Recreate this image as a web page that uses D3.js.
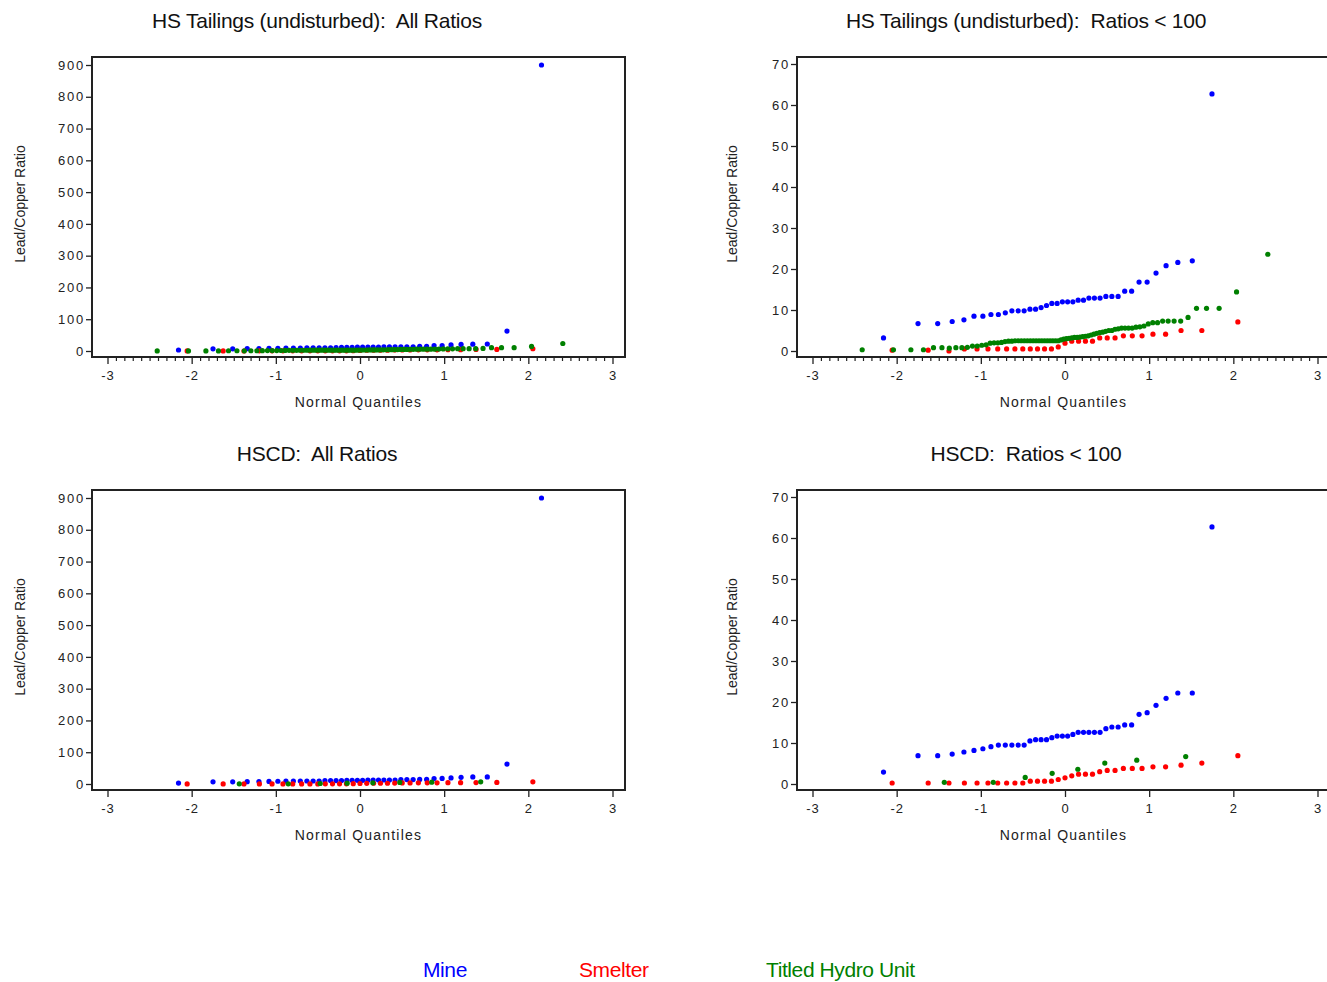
<!DOCTYPE html>
<html><head><meta charset="utf-8">
<script src="https://cdn.jsdelivr.net/npm/d3@7"></script>
<style>
body{margin:0;background:#fff;}
text{font-family:"Liberation Sans",Arial,sans-serif;white-space:pre;}
</style>
</head><body>
<svg id="chart" width="1327" height="982"></svg>
<script>
// ---------------- data ----------------
const seriesNames = ["Mine", "Smelter", "Titled Hydro Unit"];
const seriesColors = ["#0000ff", "#ff0000", "#008000"];
const xTickValues = [-3, -2, -1, 0, 1, 2, 3];
const xTickLabels = ["-3", "-2", "-1", "0", "1", "2", "3"];
const yTicksAll = [0, 100, 200, 300, 400, 500, 600, 700, 800, 900];
const yTicksLow = [0, 10, 20, 30, 40, 50, 60, 70];
const panelTitles = [
  "HS Tailings (undisturbed):  All Ratios",
  "HS Tailings (undisturbed):  Ratios < 100",
  "HSCD:  All Ratios",
  "HSCD:  Ratios < 100"
];
const yAxisTitle = "Lead/Copper Ratio";
const xAxisTitle = "Normal Quantiles";

// HS Tailings (undisturbed) lead/copper ratios (sorted)
const hsMine = [3.2, 6.7, 6.7, 7.2, 7.6, 8.5, 8.5, 8.9, 8.9, 9.3,
  9.8, 9.8, 9.8, 10.2, 10.2, 10.6, 11.1, 11.6, 11.6, 12.0,
  12.0, 12.0, 12.4, 12.4, 12.9, 12.9, 12.9, 13.3, 13.3, 13.3,
  14.6, 14.6, 16.8, 16.8, 19.0, 20.8, 21.6, 22.0, 62.7, 900];
const hsSmelter = [0.2, 0.2, 0.0, 0.5, 0.5, 0.5, 0.5, 0.5, 0.5, 0.5,
  0.5, 0.5, 0.5, 0.5, 1.0, 1.9, 2.4, 2.4, 2.4, 2.4,
  3.2, 3.2, 3.2, 3.7, 3.7, 3.7, 4.1, 4.1, 5.0, 5.0, 7.1];
const hsHydro = [0.3, 0.3, 0.3, 0.3, 0.8, 0.8, 0.7, 0.8, 0.8, 0.9,
  1.2, 1.2, 1.4, 1.5, 1.9, 2.0, 2.0, 2.1, 2.3, 2.4,
  2.4, 2.5, 2.5, 2.5, 2.5, 2.5, 2.5, 2.5, 2.5, 2.5,
  2.5, 2.5, 2.5, 2.5, 2.5, 2.5, 2.5, 2.7, 2.9, 3.0,
  3.1, 3.2, 3.3, 3.3, 3.4, 3.5, 3.6, 3.7, 3.9, 4.1,
  4.3, 4.5, 4.6, 4.8, 5.0, 5.0, 5.3, 5.4, 5.6, 5.6,
  5.6, 5.6, 5.8, 5.9, 6.1, 6.6, 6.9, 6.9, 7.3, 7.3,
  7.3, 7.3, 8.2, 10.4, 10.4, 10.4, 14.4, 23.6];

// HSCD lead/copper ratios (sorted)
const hscdMine = [2.9, 6.9, 6.9, 7.3, 7.8, 8.2, 8.6, 9.1, 9.5, 9.5,
  9.5, 9.5, 9.5, 10.5, 10.8, 10.8, 10.8, 11.3, 11.7, 11.7,
  11.7, 12.1, 12.6, 12.6, 12.6, 12.6, 12.6, 13.5, 13.9, 13.9,
  14.4, 14.4, 17.0, 17.4, 19.2, 20.9, 22.2, 22.2, 62.7, 900];
const hscdSmelter = [0.25, 0.25, 0.25, 0.25, 0.25, 0.25, 0.25, 0.25, 0.25, 0.25,
  0.7, 0.7, 0.7, 0.7, 1.1, 1.5, 2.0, 2.4, 2.4, 2.4,
  3.0, 3.3, 3.3, 3.8, 3.8, 3.8, 4.2, 4.2, 4.6, 5.1, 6.9];
const hscdHydro = [0.4, 0.4, 1.6, 2.6, 3.6, 5.1, 5.8, 6.7];

// ---------------- helpers ----------------
// inverse standard normal CDF (Acklam)
function invNorm(p) {
  const a = [-3.969683028665376e+01, 2.209460984245205e+02, -2.759285104469687e+02, 1.383577518672690e+02, -3.066479806614716e+01, 2.506628277459239e+00];
  const b = [-5.447609879822406e+01, 1.615858368580409e+02, -1.556989798598866e+02, 6.680131188771972e+01, -1.328068155288572e+01];
  const c = [-7.784894002430293e-03, -3.223964580411365e-01, -2.400758277161838e+00, -2.549671180376374e+00, 4.374664141464968e+00, 2.938163982698783e+00];
  const d = [7.784695709041462e-03, 3.224671290700398e-01, 2.445134137142996e+00, 3.754408661907416e+00];
  const pl = 0.02425, ph = 1 - pl;
  let q, r;
  if (p < pl) {
    q = Math.sqrt(-2 * Math.log(p));
    return (((((c[0]*q+c[1])*q+c[2])*q+c[3])*q+c[4])*q+c[5]) / ((((d[0]*q+d[1])*q+d[2])*q+d[3])*q+1);
  } else if (p <= ph) {
    q = p - 0.5; r = q*q;
    return (((((a[0]*r+a[1])*r+a[2])*r+a[3])*r+a[4])*r+a[5])*q / (((((b[0]*r+b[1])*r+b[2])*r+b[3])*r+b[4])*r+1);
  } else {
    q = Math.sqrt(-2 * Math.log(1 - p));
    return -(((((c[0]*q+c[1])*q+c[2])*q+c[3])*q+c[4])*q+c[5]) / ((((d[0]*q+d[1])*q+d[2])*q+d[3])*q+1);
  }
}
// normal scores (Blom plotting positions) for a sorted sample
function qq(values) {
  const n = values.length;
  return values.map((v, i) => ({ q: invNorm((i + 1 - 0.375) / (n + 0.25)), v }));
}

const svg = d3.select("#chart");
const FONT = '"Liberation Sans", Arial, sans-serif';

const panels = [
  { title: panelTitles[0], fx: 92, fy: 57, titleX: 317, yMax: 900, yTop: 65, ticks: yTicksAll, limit: Infinity,
    data: [hsMine, hsSmelter, hsHydro], minor: true, ylabX: 21 },
  { title: panelTitles[1], fx: 797, fy: 57, titleX: 1026, yMax: 70, yTop: 64, ticks: yTicksLow, limit: 100,
    data: [hsMine, hsSmelter, hsHydro], minor: true, ylabX: 733 },
  { title: panelTitles[2], fx: 92, fy: 490, titleX: 317, yMax: 900, yTop: 65, ticks: yTicksAll, limit: Infinity,
    data: [hscdMine, hscdSmelter, hscdHydro], minor: false, ylabX: 21 },
  { title: panelTitles[3], fx: 797, fy: 490, titleX: 1026, yMax: 70, yTop: 64, ticks: yTicksLow, limit: 100,
    data: [hscdMine, hscdSmelter, hscdHydro], minor: false, ylabX: 733 }
];

panels.forEach(p => {
  const W = 533, H = 300;
  const dy = p.fy - 57;
  const x = d3.scaleLinear().domain([-3, 3]).range([p.fx + 15.5, p.fx + 520.5]);
  const y = d3.scaleLinear().domain([0, p.yMax]).range([351 + dy, p.yTop + dy]);
  const g = svg.append("g");

  // title
  g.append("text").attr("x", p.titleX).attr("y", p.fy - 29)
    .attr("text-anchor", "middle").attr("font-size", 21).attr("letter-spacing", -0.25)
    .attr("fill", "#111").text(p.title);

  // points
  p.data.forEach((vals, si) => {
    const pts = qq(vals).filter(d => d.v < p.limit);
    g.append("g").selectAll("circle").data(pts).join("circle")
      .attr("cx", d => x(d.q)).attr("cy", d => y(d.v)).attr("r", 2.6)
      .attr("fill", seriesColors[si]);
  });

  // frame
  g.append("rect").attr("x", p.fx).attr("y", p.fy).attr("width", W).attr("height", H)
    .attr("fill", "none").attr("stroke", "#222").attr("stroke-width", 2);

  // y axis
  const yAxis = d3.axisLeft(y).tickValues(p.ticks).tickSize(5).tickPadding(3);
  const ya = g.append("g").attr("transform", `translate(${p.fx - 1},0)`).call(yAxis);
  ya.select(".domain").remove();
  ya.selectAll("line").attr("stroke", "#222").attr("stroke-width", 1.3);
  ya.selectAll("text").attr("font-family", FONT).attr("font-size", 13)
    .attr("letter-spacing", 1.8).attr("fill", "#222").attr("dx", 2);

  // x axis
  const xb = p.fy + H;
  if (p.minor) {
    const minorTicks = d3.range(-30, 31).map(k => k / 10).filter(t => Math.abs(t - Math.round(t)) > 1e-6);
    const xm = d3.axisBottom(x).tickValues(minorTicks).tickSize(3).tickFormat("");
    const xma = g.append("g").attr("transform", `translate(0,${xb + 1})`).call(xm);
    xma.select(".domain").remove();
    xma.selectAll("line").attr("stroke", "#222").attr("stroke-width", 1.2);
  }
  const xAxis = d3.axisBottom(x).tickValues(xTickValues).tickSize(6).tickPadding(7)
    .tickFormat((d, i) => xTickLabels[i]);
  const xa = g.append("g").attr("transform", `translate(0,${xb + 1})`).call(xAxis);
  xa.select(".domain").remove();
  xa.selectAll("line").attr("stroke", "#222").attr("stroke-width", 1.3);
  xa.selectAll("text").attr("font-family", FONT).attr("font-size", 13)
    .attr("letter-spacing", 1).attr("fill", "#222");

  // axis titles
  g.append("text").attr("x", p.fx + W / 2).attr("y", xb + 50)
    .attr("text-anchor", "middle").attr("font-size", 14).attr("letter-spacing", 1.2)
    .attr("fill", "#222").text(xAxisTitle);
  g.append("text").attr("transform", `translate(${p.ylabX},${204 + dy}) rotate(-90)`)
    .attr("text-anchor", "middle").attr("dominant-baseline", "middle")
    .attr("font-size", 14).attr("fill", "#222").text(yAxisTitle);
});

// legend
const legendX = [423, 579, 766];
svg.append("g").selectAll("text").data(seriesNames).join("text")
  .attr("x", (d, i) => legendX[i]).attr("y", 977)
  .attr("font-size", 21).attr("letter-spacing", -0.4)
  .attr("fill", (d, i) => seriesColors[i]).text(d => d);
</script>
</body></html>
